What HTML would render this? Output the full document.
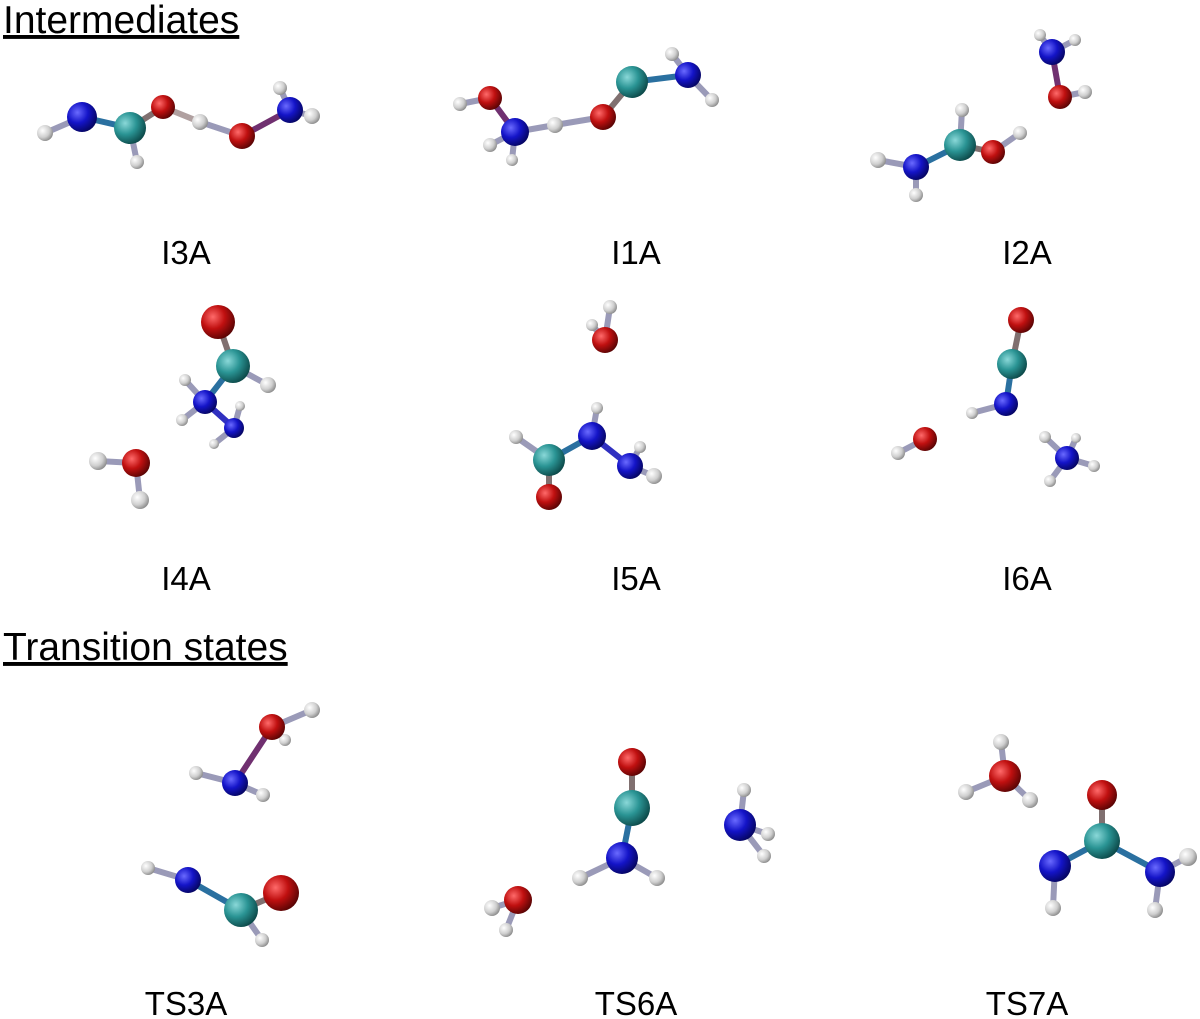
<!DOCTYPE html>
<html><head><meta charset="utf-8"><style>
html,body{margin:0;padding:0;background:#fff}
svg{display:block}
text{font-family:"Liberation Sans",Arial,sans-serif;fill:#000}
.lab{font-size:33px;text-anchor:middle}
.hd{font-size:39px;text-decoration:underline}
line{stroke-width:6;stroke-linecap:round}
</style></head><body>
<svg width="1200" height="1019" viewBox="0 0 1200 1019" xmlns="http://www.w3.org/2000/svg">
<defs>
<radialGradient id="N" cx="35%" cy="35%" r="70%"><stop offset="0" stop-color="#6a6aff"/><stop offset="0.5" stop-color="#1414c8"/><stop offset="1" stop-color="#050560"/></radialGradient>
<radialGradient id="C" cx="35%" cy="35%" r="70%"><stop offset="0" stop-color="#8ad8d8"/><stop offset="0.5" stop-color="#2a9494"/><stop offset="1" stop-color="#0c4848"/></radialGradient>
<radialGradient id="O" cx="35%" cy="35%" r="70%"><stop offset="0" stop-color="#ff6a6a"/><stop offset="0.5" stop-color="#c01010"/><stop offset="1" stop-color="#580404"/></radialGradient>
<radialGradient id="H" cx="35%" cy="35%" r="70%"><stop offset="0" stop-color="#ffffff"/><stop offset="0.6" stop-color="#cfcfcf"/><stop offset="1" stop-color="#8a8a8a"/></radialGradient>
</defs>
<text x="3" y="33" class="hd">Intermediates</text>
<text x="3" y="660" class="hd">Transition states</text>
<text x="186" y="264" class="lab">I3A</text>
<text x="636" y="264" class="lab">I1A</text>
<text x="1027" y="264" class="lab">I2A</text>
<text x="186" y="590" class="lab">I4A</text>
<text x="636" y="590" class="lab">I5A</text>
<text x="1027" y="590" class="lab">I6A</text>
<text x="186" y="1015" class="lab">TS3A</text>
<text x="636" y="1015" class="lab">TS6A</text>
<text x="1027" y="1015" class="lab">TS7A</text>

<g stroke="#9a9ab8">
<line x1="45" y1="133" x2="82" y2="117"/><line x1="82" y1="117" x2="130" y2="128" stroke="#2a70a0"/><line x1="130" y1="128" x2="137" y2="162"/><line x1="130" y1="128" x2="163" y2="107" stroke="#807070"/><line x1="163" y1="107" x2="200" y2="122" stroke="#b0a0a0"/><line x1="200" y1="122" x2="242" y2="136"/><line x1="242" y1="136" x2="290" y2="110" stroke="#703070"/><line x1="290" y1="110" x2="280" y2="88"/><line x1="290" y1="110" x2="312" y2="116"/>
<line x1="460" y1="104" x2="490" y2="98"/><line x1="490" y1="98" x2="515" y2="132" stroke="#703070"/><line x1="515" y1="132" x2="490" y2="145"/><line x1="515" y1="132" x2="512" y2="160"/><line x1="515" y1="132" x2="555" y2="125"/><line x1="555" y1="125" x2="603" y2="117"/><line x1="603" y1="117" x2="632" y2="82" stroke="#807070"/><line x1="632" y1="82" x2="688" y2="75" stroke="#2a70a0"/><line x1="688" y1="75" x2="672" y2="54"/><line x1="688" y1="75" x2="712" y2="100"/>
<line x1="1052" y1="52" x2="1040" y2="35"/><line x1="1052" y1="52" x2="1075" y2="40"/><line x1="1052" y1="52" x2="1060" y2="97" stroke="#703070"/><line x1="1060" y1="97" x2="1085" y2="92"/>
<line x1="878" y1="160" x2="916" y2="167"/><line x1="916" y1="167" x2="916" y2="195"/><line x1="916" y1="167" x2="960" y2="145" stroke="#2a70a0"/><line x1="960" y1="145" x2="962" y2="110"/><line x1="960" y1="145" x2="993" y2="152" stroke="#807070"/><line x1="993" y1="152" x2="1020" y2="133"/>
<line x1="218" y1="322" x2="233" y2="366" stroke="#807070"/><line x1="233" y1="366" x2="268" y2="385"/><line x1="233" y1="366" x2="205" y2="402" stroke="#2a70a0"/><line x1="205" y1="402" x2="185" y2="380"/><line x1="205" y1="402" x2="182" y2="420"/><line x1="205" y1="402" x2="234" y2="428" stroke="#3030c0"/><line x1="234" y1="428" x2="240" y2="406"/><line x1="234" y1="428" x2="214" y2="444"/>
<line x1="98" y1="461" x2="136" y2="463"/><line x1="136" y1="463" x2="140" y2="500"/>
<line x1="605" y1="340" x2="610" y2="307"/><line x1="605" y1="340" x2="592" y2="325"/>
<line x1="592" y1="436" x2="597" y2="408"/><line x1="592" y1="436" x2="549" y2="460" stroke="#2a70a0"/><line x1="549" y1="460" x2="516" y2="437"/><line x1="549" y1="460" x2="549" y2="497" stroke="#807070"/><line x1="592" y1="436" x2="630" y2="466" stroke="#3030c0"/><line x1="630" y1="466" x2="654" y2="476"/><line x1="630" y1="466" x2="640" y2="447"/>
<line x1="1021" y1="320" x2="1012" y2="364" stroke="#807070"/><line x1="1012" y1="364" x2="1006" y2="404" stroke="#2a70a0"/><line x1="1006" y1="404" x2="972" y2="413"/>
<line x1="925" y1="439" x2="898" y2="453"/>
<line x1="1067" y1="458" x2="1045" y2="437"/><line x1="1067" y1="458" x2="1094" y2="466"/><line x1="1067" y1="458" x2="1050" y2="481"/><line x1="1067" y1="458" x2="1076" y2="438"/>
<line x1="272" y1="727" x2="312" y2="710"/><line x1="272" y1="727" x2="285" y2="740"/><line x1="272" y1="727" x2="235" y2="783" stroke="#703070"/><line x1="235" y1="783" x2="196" y2="773"/><line x1="235" y1="783" x2="263" y2="795"/>
<line x1="148" y1="868" x2="188" y2="880"/><line x1="188" y1="880" x2="241" y2="910" stroke="#2a70a0"/><line x1="241" y1="910" x2="262" y2="940"/><line x1="241" y1="910" x2="281" y2="893" stroke="#807070"/>
<line x1="632" y1="762" x2="632" y2="808" stroke="#807070"/><line x1="632" y1="808" x2="622" y2="858" stroke="#2a70a0"/><line x1="622" y1="858" x2="580" y2="878"/><line x1="622" y1="858" x2="657" y2="878"/>
<line x1="518" y1="900" x2="492" y2="908"/><line x1="518" y1="900" x2="506" y2="930"/>
<line x1="740" y1="825" x2="744" y2="790"/><line x1="740" y1="825" x2="768" y2="834"/><line x1="740" y1="825" x2="764" y2="856"/>
<line x1="1005" y1="776" x2="1001" y2="742"/><line x1="1005" y1="776" x2="966" y2="792"/><line x1="1005" y1="776" x2="1030" y2="800"/>
<line x1="1102" y1="795" x2="1102" y2="841" stroke="#807070"/><line x1="1102" y1="841" x2="1055" y2="866" stroke="#2a70a0"/><line x1="1055" y1="866" x2="1053" y2="908"/><line x1="1102" y1="841" x2="1160" y2="872" stroke="#2a70a0"/><line x1="1160" y1="872" x2="1188" y2="857"/><line x1="1160" y1="872" x2="1155" y2="910"/>
</g>

<g fill="url(#H)">
<circle cx="45" cy="133" r="8"/><circle cx="137" cy="162" r="7"/><circle cx="200" cy="122" r="8"/><circle cx="280" cy="88" r="7"/><circle cx="312" cy="116" r="8"/>
<circle cx="460" cy="104" r="7"/><circle cx="490" cy="145" r="7"/><circle cx="512" cy="160" r="6"/><circle cx="555" cy="125" r="8"/><circle cx="672" cy="54" r="7"/><circle cx="712" cy="100" r="7"/>
<circle cx="1040" cy="35" r="6"/><circle cx="1075" cy="40" r="6"/><circle cx="1085" cy="92" r="7"/><circle cx="878" cy="160" r="8"/><circle cx="916" cy="195" r="7"/><circle cx="962" cy="110" r="7"/><circle cx="1020" cy="133" r="7"/>
<circle cx="268" cy="385" r="8"/><circle cx="185" cy="380" r="6"/><circle cx="182" cy="420" r="6"/><circle cx="240" cy="406" r="5"/><circle cx="214" cy="444" r="5"/><circle cx="98" cy="461" r="9"/><circle cx="140" cy="500" r="9"/>
<circle cx="610" cy="307" r="7"/><circle cx="592" cy="325" r="6"/><circle cx="597" cy="408" r="6"/><circle cx="516" cy="437" r="7"/><circle cx="654" cy="476" r="8"/><circle cx="640" cy="447" r="6"/>
<circle cx="972" cy="413" r="6"/><circle cx="898" cy="453" r="7"/><circle cx="1045" cy="437" r="6"/><circle cx="1094" cy="466" r="6"/><circle cx="1050" cy="481" r="6"/><circle cx="1076" cy="438" r="5"/>
<circle cx="312" cy="710" r="8"/><circle cx="285" cy="740" r="6"/><circle cx="196" cy="773" r="7"/><circle cx="263" cy="795" r="7"/><circle cx="148" cy="868" r="7"/><circle cx="262" cy="940" r="7"/>
<circle cx="580" cy="878" r="8"/><circle cx="657" cy="878" r="8"/><circle cx="492" cy="908" r="8"/><circle cx="506" cy="930" r="7"/><circle cx="744" cy="790" r="7"/><circle cx="768" cy="834" r="7"/><circle cx="764" cy="856" r="7"/>
<circle cx="1001" cy="742" r="8"/><circle cx="966" cy="792" r="8"/><circle cx="1030" cy="800" r="8"/><circle cx="1053" cy="908" r="8"/><circle cx="1188" cy="857" r="9"/><circle cx="1155" cy="910" r="8"/>
</g>
<g fill="url(#N)">
<circle cx="82" cy="117" r="15"/><circle cx="290" cy="110" r="13"/><circle cx="515" cy="132" r="14"/><circle cx="688" cy="75" r="13"/><circle cx="1052" cy="52" r="13"/><circle cx="916" cy="167" r="13"/>
<circle cx="205" cy="402" r="12"/><circle cx="234" cy="428" r="10"/><circle cx="592" cy="436" r="14"/><circle cx="630" cy="466" r="13"/><circle cx="1006" cy="404" r="12"/><circle cx="1067" cy="458" r="12"/>
<circle cx="235" cy="783" r="13"/><circle cx="188" cy="880" r="13"/><circle cx="622" cy="858" r="16"/><circle cx="740" cy="825" r="16"/><circle cx="1055" cy="866" r="16"/><circle cx="1160" cy="872" r="15"/>
</g>
<g fill="url(#C)">
<circle cx="130" cy="128" r="16"/><circle cx="632" cy="82" r="16"/><circle cx="960" cy="145" r="16"/><circle cx="233" cy="366" r="17"/><circle cx="549" cy="460" r="16"/><circle cx="1012" cy="364" r="15"/>
<circle cx="241" cy="910" r="17"/><circle cx="632" cy="808" r="18"/><circle cx="1102" cy="841" r="18"/>
</g>
<g fill="url(#O)">
<circle cx="163" cy="107" r="12"/><circle cx="242" cy="136" r="13"/><circle cx="490" cy="98" r="12"/><circle cx="603" cy="117" r="13"/><circle cx="1060" cy="97" r="12"/><circle cx="993" cy="152" r="12"/>
<circle cx="218" cy="322" r="17"/><circle cx="136" cy="463" r="14"/><circle cx="605" cy="340" r="13"/><circle cx="549" cy="497" r="13"/><circle cx="1021" cy="320" r="13"/><circle cx="925" cy="439" r="12"/>
<circle cx="272" cy="727" r="13"/><circle cx="281" cy="893" r="18"/><circle cx="632" cy="762" r="14"/><circle cx="518" cy="900" r="14"/><circle cx="1005" cy="776" r="16"/><circle cx="1102" cy="795" r="15"/>
</g>
</svg>
</body></html>
